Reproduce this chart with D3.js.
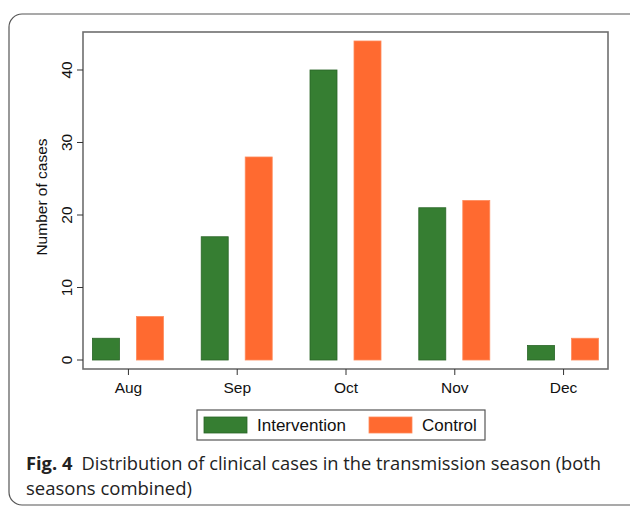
<!DOCTYPE html>
<html>
<head>
<meta charset="utf-8">
<script src="https://cdn.jsdelivr.net/npm/d3@7"></script>
<style>
  body { margin: 0; background: #fff; }
  svg { display: block; }
</style>
</head>
<body>
<svg id="chart" width="630" height="508"></svg>
<script>
// data
const months = ['Aug', 'Sep', 'Oct', 'Nov', 'Dec'];
const intervention = [3, 17, 40, 21, 2];
const control = [6, 28, 44, 22, 3];
const yTicks = [0, 10, 20, 30, 40];
const seriesNames = ['Intervention', 'Control'];
const seriesColors = ['#367e32', '#ff6a30'];
const seriesStroke = ['#2a6527', '#ff8a5a'];

const svg = d3.select('#chart');
const axisFont = 'Liberation Sans, Arial, sans-serif';

// outer card
svg.append('rect')
    .attr('x', 9).attr('y', 14)
    .attr('width', 640).attr('height', 491)
    .attr('rx', 13)
    .attr('fill', 'none')
    .attr('stroke', '#555')
    .attr('stroke-width', 1.2);

const plot = { left: 83, right: 608, top: 32, bottom: 369 };

const x = d3.scalePoint()
    .domain(months)
    .range([plot.left, plot.right])
    .padding(0.413);

// 0 sits at y=360, 40 at y=70
const y = d3.scaleLinear()
    .domain([-1.24, 45.24])
    .range([plot.bottom, plot.top]);

const barW = 27;
const offset = 22;

// plot frame
svg.append('rect')
    .attr('x', plot.left).attr('y', plot.top)
    .attr('width', plot.right - plot.left)
    .attr('height', plot.bottom - plot.top)
    .attr('fill', 'none')
    .attr('stroke', '#6e6e6e')
    .attr('stroke-width', 1.6);

// bars
[intervention, control].forEach((vals, s) => {
    svg.append('g')
        .selectAll('rect')
        .data(vals)
        .enter()
        .append('rect')
        .attr('x', (d, i) => x(months[i]) + (s === 0 ? -offset : offset) - barW / 2)
        .attr('y', d => y(d))
        .attr('width', barW)
        .attr('height', d => y(0) - y(d))
        .attr('fill', seriesColors[s])
        .attr('stroke', seriesStroke[s])
        .attr('stroke-width', 0.8);
});

// y axis
const yAxis = svg.append('g')
    .attr('transform', `translate(${plot.left},0)`)
    .call(d3.axisLeft(y).tickValues(yTicks).tickSize(6).tickPadding(5));
yAxis.select('.domain').remove();
yAxis.selectAll('line').attr('stroke', '#333');
yAxis.selectAll('text')
    .attr('font-family', axisFont)
    .attr('font-size', 15.5)
    .attr('fill', '#111')
    .attr('text-anchor', 'middle')
    .attr('dy', null)
    .attr('transform', function () {
        return 'rotate(-90)';
    })
    .each(function (d) {
        d3.select(this).attr('x', -y(d)).attr('y', -11);
    });
yAxis.selectAll('.tick').attr('transform', null);
yAxis.selectAll('.tick line')
    .attr('y1', d => y(d)).attr('y2', d => y(d));

svg.append('text')
    .attr('transform', 'translate(47,197) rotate(-90)')
    .attr('text-anchor', 'middle')
    .attr('font-family', axisFont)
    .attr('font-size', 15.5)
    .attr('fill', '#111')
    .text('Number of cases');

// x axis
const xAxis = svg.append('g')
    .attr('transform', `translate(0,${plot.bottom})`)
    .call(d3.axisBottom(x).tickSize(6).tickPadding(7));
xAxis.select('.domain').remove();
xAxis.selectAll('line').attr('stroke', '#333');
xAxis.selectAll('text')
    .attr('font-family', axisFont)
    .attr('font-size', 15.5)
    .attr('fill', '#111');

// legend
const legend = svg.append('g');
legend.append('rect')
    .attr('x', 197).attr('y', 410)
    .attr('width', 288).attr('height', 30)
    .attr('fill', '#fff')
    .attr('stroke', '#555')
    .attr('stroke-width', 1.2);
const legendX = [204, 369];
seriesNames.forEach((name, i) => {
    legend.append('rect')
        .attr('x', legendX[i]).attr('y', 417)
        .attr('width', 43).attr('height', 16)
        .attr('fill', seriesColors[i])
        .attr('stroke', seriesStroke[i])
        .attr('stroke-width', 0.8);
    legend.append('text')
        .attr('x', legendX[i] + 53).attr('y', 431)
        .attr('font-family', axisFont)
        .attr('font-size', 17)
        .attr('fill', '#111')
        .text(name);
});

// caption
const caption = svg.append('g')
    .attr('font-family', 'Open Sans, Noto Sans, sans-serif')
    .attr('fill', '#222');
const line1 = caption.append('text')
    .attr('x', 26).attr('y', 470)
    .attr('font-size', 18.5)
    .attr('textLength', 575)
    .attr('lengthAdjust', 'spacingAndGlyphs');
line1.append('tspan').attr('font-weight', 'bold').text('Fig. 4');
line1.append('tspan').text('\u2002Distribution of clinical cases in the transmission season (both');
caption.append('text')
    .attr('x', 26).attr('y', 495)
    .attr('font-size', 18.5)
    .text('seasons combined)');
</script>
</body>
</html>
